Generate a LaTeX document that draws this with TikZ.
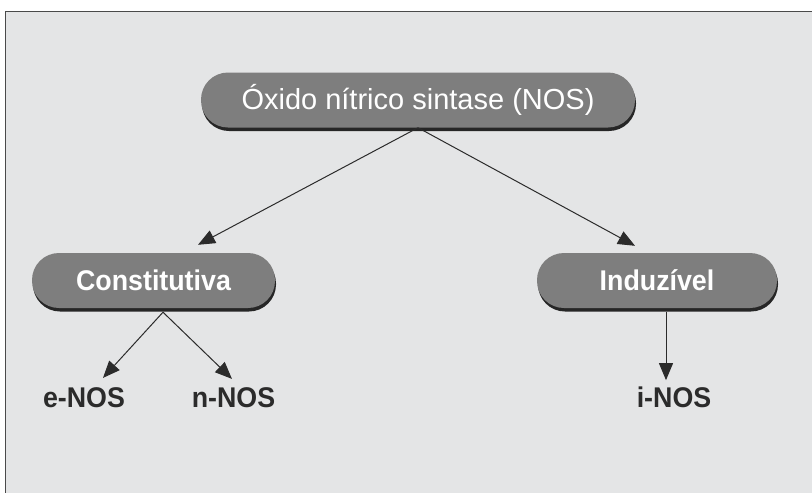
\documentclass[tikz,border=0pt]{standalone}
\usepackage{fontspec}
\setmainfont{Liberation Sans}
\newfontfamily\narrowsans[FakeStretch=0.94]{Liberation Sans}
\usetikzlibrary{arrows.meta,shadows}
\definecolor{panelgray}{HTML}{E4E5E6}
\definecolor{pillgray}{HTML}{7E7E7E}
\definecolor{framegray}{HTML}{4A4A4A}
\definecolor{inkgray}{HTML}{2B2B2B}
\tikzstyle{pill}=[rectangle,rounded corners=27pt,fill=pillgray,text=white,minimum height=55pt,font=\narrowsans\bfseries\fontsize{28.5}{30}\selectfont,general shadow={fill=black!85,shadow yshift=-3.5pt,shadow xshift=1pt}]
\tikzstyle{iso}=[inner sep=2pt,anchor=base,text=inkgray,font=\narrowsans\bfseries\fontsize{28.5}{30}\selectfont]
\tikzstyle{arr}=[-{Triangle[length=17pt,width=14pt]},draw=inkgray,line width=1pt]

\begin{document}
\begin{tikzpicture}[x=1pt,y=-1pt]
\useasboundingbox (0,0) rectangle (812,493);
\clip (0,0) rectangle (812,493);
\draw[framegray,line width=1.8pt,fill=panelgray] (5.5,11.5) rectangle (830,510);
\node[pill,minimum width=434pt,font=\fontsize{29}{31}\selectfont] (nos) at (418,100) {Óxido nítrico sintase (NOS)};
\node[pill,minimum width=243pt] (const) at (153.5,280.5) {Constitutiva};
\node[pill,minimum width=240pt] (ind) at (657,280.5) {Induzível};
\node[iso] (enos) at (84,407) {e-NOS};
\node[iso] (nnos) at (233.5,407) {n-NOS};
\node[iso] (inos) at (674,407) {i-NOS};
\draw[arr] (nos.south) -- ([xshift=44.5pt,yshift=8pt]const.north);
\draw[arr] (nos.south) -- ([xshift=-22pt,yshift=7pt]ind.north);
\draw[arr] ([xshift=9.5pt,yshift=-4pt]const.south) -- ([xshift=19pt,yshift=7pt]enos.north);
\draw[arr] ([xshift=9.5pt,yshift=-4pt]const.south) -- ([xshift=-1.5pt,yshift=6pt]nnos.north);
\draw[arr] ([xshift=9pt,yshift=-4pt]ind.south) -- ([xshift=-8pt,yshift=4pt]inos.north);
\end{tikzpicture}
\end{document}
